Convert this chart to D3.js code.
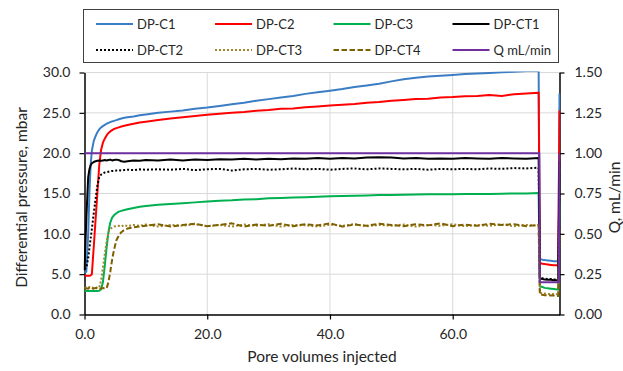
<!DOCTYPE html>
<html><head><meta charset="utf-8">
<script src="https://cdn.jsdelivr.net/npm/d3@7"></script>
<style>
body{margin:0;background:#fff}
svg{display:block}
text{font-family:Lato,"Open Sans",sans-serif;fill:#262626}
</style>
</head><body>
<svg id="chart" width="623" height="371"></svg>
<script>
// ---- data ----
const pv = [0,0.3,0.6,0.8,1.0,1.2,1.5,1.8,2.1,2.4,2.7,3.0,3.3,3.6,3.9,4.2,4.5,4.8,5.2,5.6,6.0,6.5,7,8,9,
10,12,14,16,18,20,22,24,26,28,30,32,34,36,38,40,42,44,46,48,50,52,54,56,58,60,62,64,66,68,70,72,74,
74.2,74.6,75,75.5,76,76.5,77,77.2,77.4];

const dpC1 = [5.2,5.3,10.0,15.0,18.5,20.3,21.5,22.1,22.6,22.95,23.2,23.35,23.5,23.65,23.75,23.85,23.95,24.0,24.1,24.2,24.3,24.4,24.45,24.55,24.7,
24.8,25.0,25.15,25.3,25.5,25.65,25.85,26.05,26.25,26.5,26.7,26.9,27.1,27.35,27.55,27.75,27.95,28.2,28.4,28.6,28.9,29.15,29.35,29.5,29.6,29.7,29.8,29.88,29.95,30.02,30.1,30.2,30.3,
6.9,6.8,6.75,6.7,6.65,6.6,6.6,6.55,27.4];

const dpC2 = [4.8,4.8,4.8,4.8,4.85,5.0,8.3,11.7,15.1,18.5,20.4,21.3,21.8,22.2,22.5,22.7,22.85,23.0,23.1,23.2,23.3,23.4,23.5,23.65,23.8,
23.9,24.1,24.3,24.45,24.6,24.75,24.9,25.0,25.1,25.25,25.35,25.5,25.55,25.7,25.8,25.9,26.0,26.1,26.25,26.35,26.5,26.6,26.7,26.75,26.9,26.95,27.05,27.1,27.2,27.1,27.3,27.4,27.5,
6.4,6.3,6.25,6.2,6.15,6.1,6.1,6.05,25.3];

const dpC3 = [2.9,2.9,2.9,2.9,2.9,2.9,2.9,2.9,2.9,2.95,3.1,4.0,6.0,8.3,10.2,11.4,12.0,12.3,12.55,12.75,12.85,12.95,13.05,13.2,13.35,
13.45,13.6,13.7,13.8,13.9,14.0,14.1,14.15,14.25,14.3,14.4,14.45,14.5,14.55,14.6,14.65,14.7,14.72,14.75,14.8,14.82,14.85,14.87,14.9,14.9,14.92,14.93,14.95,14.95,14.97,15.0,15.0,15.05,
3.5,3.4,3.3,3.25,3.2,3.15,3.1,3.1,14.0];

const dpCT1 = [5.5,12.0,17.0,18.0,18.5,18.75,18.9,19.0,19.05,19.1,19.05,19.1,19.15,19.1,19.15,19.2,19.1,19.15,19.2,19.15,19.0,18.95,19.0,19.1,19.05,
19.15,19.1,19.2,19.1,19.2,19.15,19.25,19.2,19.3,19.2,19.3,19.25,19.35,19.3,19.4,19.3,19.4,19.35,19.45,19.5,19.45,19.35,19.4,19.3,19.35,19.3,19.4,19.35,19.3,19.4,19.35,19.3,19.4,
4.5,4.4,4.35,4.3,4.3,4.25,4.25,4.2,19.0];

const dpCT2 = [5.6,5.8,7.0,8.2,9.4,10.6,12.5,14.3,16.0,17.0,17.35,17.5,17.6,17.65,17.7,17.75,17.8,17.8,17.85,17.9,17.85,17.9,17.95,17.9,18.0,
17.95,18.0,17.95,18.05,17.9,18.0,18.05,17.85,18.0,18.05,17.95,18.0,18.1,18.0,18.05,17.95,18.05,18.1,18.0,18.1,18.05,18.0,18.05,17.95,18.05,18.0,18.05,18.0,18.1,18.05,18.15,18.1,18.2,
4.6,4.5,4.45,4.4,4.4,4.35,4.35,4.3,17.5];

const dpCT3 = [3.3,3.35,3.3,3.4,3.3,3.35,3.3,3.4,3.3,3.35,4.2,5.8,7.5,9.0,10.2,10.6,10.8,10.9,10.95,11.0,10.9,11.1,10.95,11.1,11.0,
11.15,10.9,11.1,11.0,11.2,10.95,11.1,10.9,11.15,11.0,11.2,10.9,11.1,11.05,10.9,11.15,11.0,11.2,10.95,11.1,11.0,11.15,10.9,11.1,11.0,11.2,10.95,11.1,11.0,11.15,10.95,11.1,11.0,
2.7,2.6,2.6,2.55,2.55,2.5,2.5,2.5,10.5];

const dpCT4 = [3.2,3.25,3.2,3.3,3.2,3.25,3.2,3.3,3.2,3.25,3.2,3.3,3.2,3.25,4.0,5.3,6.8,8.0,9.2,9.8,10.2,10.5,10.65,10.8,10.9,
11.0,11.2,10.9,11.1,11.25,10.95,11.1,11.3,10.9,11.15,11.0,11.25,10.95,11.2,11.05,11.3,10.9,11.15,11.0,11.25,11.1,10.95,11.2,11.05,11.3,10.95,11.15,11.0,11.25,11.1,11.2,10.95,11.1,
2.5,2.45,2.4,2.4,2.35,2.35,2.3,2.3,10.0];

const qPv = [0,74.1,74.2,77.3,77.4];
const qFlow = [1.0,1.0,0.2,0.2,1.0];

const xTicks = [0,20,40,60];
const yTicks = [0,5,10,15,20,25,30];
const y2Ticks = [0,0.25,0.5,0.75,1.0,1.25,1.5];
const seriesNames = ["DP-C1","DP-C2","DP-C3","DP-CT1","DP-CT2","DP-CT3","DP-CT4","Q mL/min"];

// ---- chart ----
const W = 623, H = 371;
const P = {l:84.5, r:559.5, t:72.5, b:314.5};
const x = d3.scaleLinear().domain([0,77.4]).range([P.l,P.r]);
const y = d3.scaleLinear().domain([0,30]).range([P.b,P.t]);
const y2 = d3.scaleLinear().domain([0,1.5]).range([P.b,P.t]);

const svg = d3.select("#chart");
svg.append("rect").attr("width",W).attr("height",H).attr("fill","#fff");

// gridlines
svg.append("g").selectAll("line").data(yTicks.filter(d=>d>0)).join("line")
  .attr("x1",P.l).attr("x2",P.r).attr("y1",d=>y(d)).attr("y2",d=>y(d))
  .attr("stroke","#d9d9d9").attr("stroke-width",1);
svg.append("g").selectAll("line").data(xTicks.filter(d=>d>0)).join("line")
  .attr("x1",d=>x(d)).attr("x2",d=>x(d)).attr("y1",P.t).attr("y2",P.b)
  .attr("stroke","#d9d9d9").attr("stroke-width",1);

// axes
function styleAxis(g){
  g.select(".domain").attr("stroke","#000").attr("stroke-width",1.5);
  g.selectAll(".tick line").attr("stroke","#000").attr("stroke-width",1.2);
  g.selectAll(".tick text").attr("font-family","Lato").attr("font-size",14).attr("fill","#262626");
}
const gL = svg.append("g").attr("transform",`translate(${P.l},0)`)
  .call(d3.axisLeft(y).tickValues(yTicks).tickFormat(d3.format(".1f")).tickSize(5).tickSizeOuter(0).tickPadding(9));
styleAxis(gL);
const gR = svg.append("g").attr("transform",`translate(${P.r},0)`)
  .call(d3.axisRight(y2).tickValues(y2Ticks).tickFormat(d3.format(".2f")).tickSize(5).tickSizeOuter(0).tickPadding(10));
styleAxis(gR);
const gB = svg.append("g").attr("transform",`translate(0,${P.b})`)
  .call(d3.axisBottom(x).tickValues(xTicks).tickFormat(d3.format(".1f")).tickSize(5).tickSizeOuter(0).tickPadding(9.5));
styleAxis(gB);

// axis titles
svg.append("text").attr("transform",`translate(27,${(P.t+P.b)/2+4}) rotate(-90)`)
  .attr("text-anchor","middle").attr("font-size",15.5).text("Differential pressure, mbar");
svg.append("text").attr("transform",`translate(620,${(P.t+P.b)/2+4}) rotate(-90)`)
  .attr("text-anchor","middle").attr("font-size",15.5).text("Q, mL/min");
svg.append("text").attr("x",(P.l+P.r)/2).attr("y",362)
  .attr("text-anchor","middle").attr("font-size",15.5).text("Pore volumes injected");

// series
svg.append("clipPath").attr("id","clip").append("rect")
  .attr("x",P.l-1).attr("y",P.t-1).attr("width",P.r-P.l+2).attr("height",P.b-P.t+2);
const series = [
  {name:seriesNames[0], xs:pv, vals:dpC1, sc:y, color:"#3b7dc4", dash:null},
  {name:seriesNames[1], xs:pv, vals:dpC2, sc:y, color:"#ff0000", dash:null},
  {name:seriesNames[2], xs:pv, vals:dpC3, sc:y, color:"#00b050", dash:null},
  {name:seriesNames[3], xs:pv, vals:dpCT1, sc:y, color:"#000000", dash:null},
  {name:seriesNames[4], xs:pv, vals:dpCT2, sc:y, color:"#000000", dash:"2,2"},
  {name:seriesNames[5], xs:pv, vals:dpCT3, sc:y, color:"#a0862a", dash:"2,2"},
  {name:seriesNames[6], xs:pv, vals:dpCT4, sc:y, color:"#7f6000", dash:"5.5,2.5"},
  {name:seriesNames[7], xs:qPv, vals:qFlow, sc:y2, color:"#7030a0", dash:null}
];
const plot = svg.append("g").attr("clip-path","url(#clip)");
series.forEach(s=>{
  const line = d3.line().x((d,i)=>x(s.xs[i])).y(d=>s.sc(d));
  plot.append("path").datum(s.vals).attr("d",line)
    .attr("fill","none").attr("stroke",s.color).attr("stroke-width",2)
    .attr("stroke-linejoin","round")
    .attr("stroke-dasharray",s.dash);
});

// legend
svg.append("rect").attr("x",83.5).attr("y",9.5).attr("width",475).attr("height",53)
  .attr("fill","#fff").attr("stroke","#404040").attr("stroke-width",1);
const colX = [96,215,333.5,452.5], rowY = [24,50];
const lg = svg.append("g").selectAll("g").data(series).join("g")
  .attr("transform",(d,i)=>`translate(${colX[i%4]},${rowY[Math.floor(i/4)]})`);
lg.append("line").attr("x1",0).attr("x2",37).attr("y1",0).attr("y2",0)
  .attr("stroke",d=>d.color).attr("stroke-width",2).attr("stroke-dasharray",d=>d.dash);
lg.append("text").attr("x",41).attr("y",0).attr("dy","0.35em").attr("font-size",13).text(d=>d.name);
</script>
</body></html>
